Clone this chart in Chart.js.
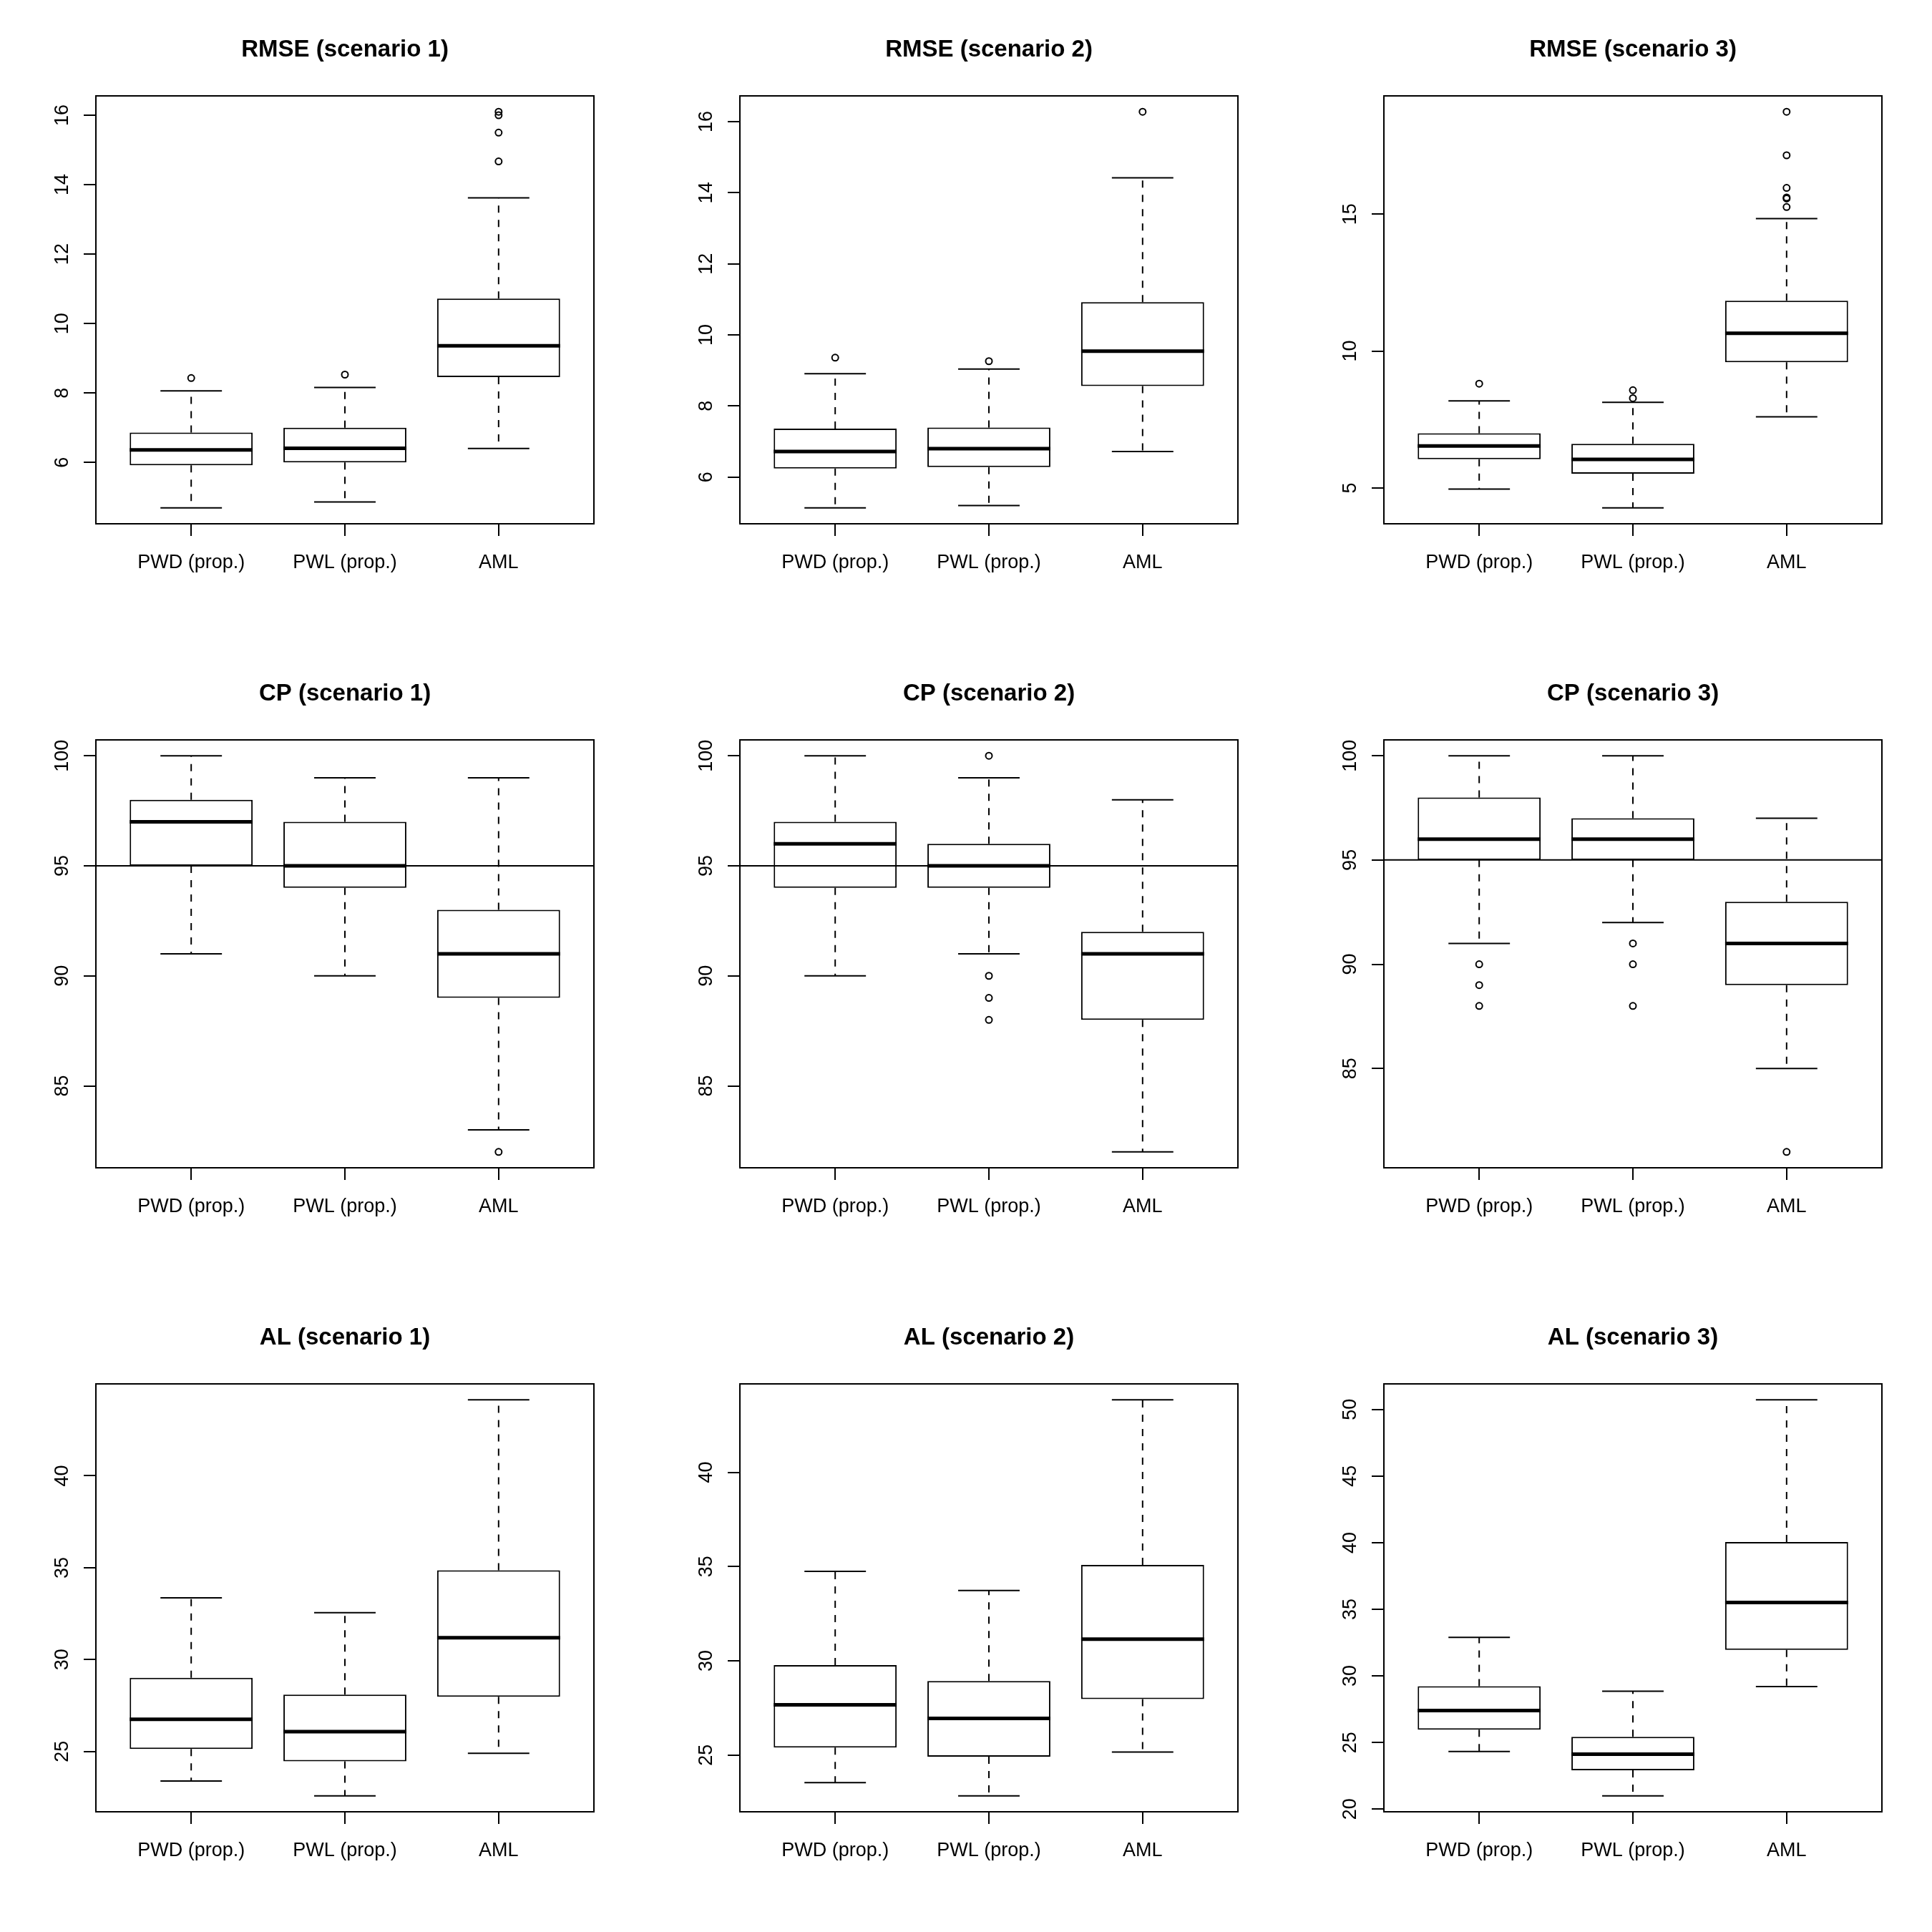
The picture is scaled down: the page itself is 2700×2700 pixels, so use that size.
<!DOCTYPE html>
<html>
<head>
<meta charset="utf-8">
<script src="https://cdn.jsdelivr.net/npm/chart.js@4.4.1/dist/chart.umd.min.js"></script>
<style>
  html, body { margin: 0; padding: 0; background: #fff; }
  #grid {
    display: grid;
    grid-template-columns: repeat(3, 900px);
    grid-template-rows: repeat(3, 900px);
    width: 2700px;
    height: 2700px;
  }
  canvas { display: block; }
</style>
</head>
<body>
<div id="grid"></div>
<script>
const categories = ["PWD (prop.)", "PWL (prop.)", "AML"];
const titles = [
  "RMSE (scenario 1)", "RMSE (scenario 2)", "RMSE (scenario 3)",
  "CP (scenario 1)", "CP (scenario 2)", "CP (scenario 3)",
  "AL (scenario 1)", "AL (scenario 2)", "AL (scenario 3)",
];

// one row per method: [lower whisker, Q1, median, Q3, upper whisker]
const rmse1Stats = [[4.69, 5.92, 6.36, 6.86, 8.06], [4.86, 6.00, 6.41, 7.00, 8.16], [6.40, 8.46, 9.36, 10.72, 13.62]];
const rmse1Outliers = [[8.43], [8.53], [14.67, 15.50, 16.00, 16.10]];
const rmse1Ticks = [6, 8, 10, 12, 14, 16];

const rmse2Stats = [[5.13, 6.24, 6.72, 7.36, 8.91], [5.20, 6.28, 6.80, 7.39, 9.04], [6.72, 8.56, 9.54, 10.92, 14.42]];
const rmse2Outliers = [[9.36], [9.26], [16.28]];
const rmse2Ticks = [6, 8, 10, 12, 14, 16];

const rmse3Stats = [[4.96, 6.05, 6.53, 7.00, 8.18], [4.27, 5.52, 6.04, 6.61, 8.13], [7.60, 9.59, 10.65, 11.84, 14.84]];
const rmse3Outliers = [[8.81], [8.28, 8.57], [15.26, 15.57, 15.61, 15.96, 17.15, 18.74]];
const rmse3Ticks = [5, 10, 15];

const cp1Stats = [[91, 95, 97, 98, 100], [90, 94, 95, 97, 99], [83, 89, 91, 93, 99]];
const cp1Outliers = [[], [], [82]];
const cp2Stats = [[90, 94, 96, 97, 100], [91, 94, 95, 96, 99], [82, 88, 91, 92, 98]];
const cp2Outliers = [[], [88, 89, 90, 100], []];
const cp3Stats = [[91, 95, 96, 98, 100], [92, 95, 96, 97, 100], [85, 89, 91, 93, 97]];
const cp3Outliers = [[88, 89, 90], [88, 90, 91], [81]];
const cpTicks = [85, 90, 95, 100];
const cpNominal = 95;

const al1Stats = [[23.39, 25.13, 26.75, 29.01, 33.36], [22.58, 24.46, 26.08, 28.09, 32.55], [24.90, 27.98, 31.19, 34.86, 44.14]];
const al2Stats = [[23.54, 25.40, 27.66, 29.77, 34.74], [22.83, 24.91, 26.94, 28.93, 33.73], [25.16, 27.97, 31.15, 35.09, 43.85]];
const al3Stats = [[24.33, 25.97, 27.40, 29.22, 32.89], [20.99, 22.92, 24.13, 25.42, 28.85], [29.20, 31.95, 35.51, 40.05, 50.73]];
const alOutliers = [[], [], []];
const al12Ticks = [25, 30, 35, 40];
const al3Ticks = [20, 25, 30, 35, 40, 45, 50];

const panels = [
  { stats: rmse1Stats, outliers: rmse1Outliers, ticks: rmse1Ticks },
  { stats: rmse2Stats, outliers: rmse2Outliers, ticks: rmse2Ticks },
  { stats: rmse3Stats, outliers: rmse3Outliers, ticks: rmse3Ticks },
  { stats: cp1Stats, outliers: cp1Outliers, ticks: cpTicks, ref: cpNominal },
  { stats: cp2Stats, outliers: cp2Outliers, ticks: cpTicks, ref: cpNominal },
  { stats: cp3Stats, outliers: cp3Outliers, ticks: cpTicks, ref: cpNominal },
  { stats: al1Stats, outliers: alOutliers, ticks: al12Ticks },
  { stats: al2Stats, outliers: alOutliers, ticks: al12Ticks },
  { stats: al3Stats, outliers: alOutliers, ticks: al3Ticks },
];

const FONT = '"Liberation Sans", Arial, Helvetica, sans-serif';
const TICK_SIZE = 27;
const BOX_WEX = 0.8;   // box width in category units (R default)
const STAPLE = 0.4;    // whisker cap width

// whiskers, medians, reference line and frame, placed with the chart's scales
const boxplotLines = {
  id: "boxplotLines",
  beforeDatasetsDraw(chart, args, opts) {
    const { ctx, scales: { x, y } } = chart;
    ctx.save();
    ctx.strokeStyle = "#000";
    ctx.lineWidth = 2;
    opts.stats.forEach((s, i) => {
      const cx = x.getPixelForValue(i + 1);
      const x0 = x.getPixelForValue(i + 1 - STAPLE / 2);
      const x1 = x.getPixelForValue(i + 1 + STAPLE / 2);
      ctx.setLineDash([10, 10]);
      ctx.beginPath();
      ctx.moveTo(cx, y.getPixelForValue(s[1]));
      ctx.lineTo(cx, y.getPixelForValue(s[0]));
      ctx.moveTo(cx, y.getPixelForValue(s[3]));
      ctx.lineTo(cx, y.getPixelForValue(s[4]));
      ctx.stroke();
      ctx.setLineDash([]);
      ctx.beginPath();
      ctx.moveTo(x0, y.getPixelForValue(s[0]));
      ctx.lineTo(x1, y.getPixelForValue(s[0]));
      ctx.moveTo(x0, y.getPixelForValue(s[4]));
      ctx.lineTo(x1, y.getPixelForValue(s[4]));
      ctx.stroke();
    });
    ctx.restore();
  },
  afterDatasetsDraw(chart, args, opts) {
    const { ctx, chartArea, scales: { x, y } } = chart;
    ctx.save();
    ctx.strokeStyle = "#000";
    ctx.lineWidth = 5;
    opts.stats.forEach((s, i) => {
      const my = y.getPixelForValue(s[2]);
      ctx.beginPath();
      ctx.moveTo(x.getPixelForValue(i + 1 - BOX_WEX / 2), my);
      ctx.lineTo(x.getPixelForValue(i + 1 + BOX_WEX / 2), my);
      ctx.stroke();
    });
    if (opts.ref != null) {
      const ry = y.getPixelForValue(opts.ref);
      ctx.lineWidth = 2;
      ctx.beginPath();
      ctx.moveTo(chartArea.left, ry);
      ctx.lineTo(chartArea.right, ry);
      ctx.stroke();
    }
    ctx.lineWidth = 2;
    ctx.strokeRect(chartArea.left, chartArea.top, chartArea.width, chartArea.height);
    ctx.restore();
  },
};

const measure = document.createElement("canvas").getContext("2d");
measure.font = `${TICK_SIZE}px ${FONT}`;

const grid = document.getElementById("grid");

panels.forEach((p, k) => {
  const canvas = document.createElement("canvas");
  canvas.width = 900;
  canvas.height = 900;
  grid.appendChild(canvas);

  const all = p.stats.flat().concat(p.outliers.flat());
  const lo = Math.min(...all);
  const hi = Math.max(...all);
  const ext = (hi - lo) * 0.04;

  const widest = Math.max(...p.ticks.map((t) => measure.measureText(String(t)).width));
  const yPad = 46 - 17 - widest / 2;

  const points = [];
  p.outliers.forEach((list, i) => list.forEach((v) => points.push({ x: i + 1, y: v })));

  new Chart(canvas, {
    type: "bar",
    data: {
      datasets: [
        {
          label: "box",
          data: p.stats.map((s, i) => ({ x: i + 1, y: [s[1], s[3]] })),
          backgroundColor: "#fff",
          borderColor: "#000",
          borderWidth: 2,
          borderSkipped: false,
          categoryPercentage: 1,
          barPercentage: BOX_WEX,
        },
        {
          type: "scatter",
          label: "outliers",
          data: points,
          pointStyle: "circle",
          pointRadius: 4.5,
          pointBorderWidth: 2,
          pointBorderColor: "#000",
          pointBackgroundColor: "rgba(0,0,0,0)",
        },
      ],
    },
    options: {
      responsive: false,
      animation: false,
      devicePixelRatio: 1,
      layout: { padding: { left: 0, right: 70, top: 0, bottom: 0 } },
      plugins: {
        legend: { display: false },
        tooltip: { enabled: false },
        title: {
          display: true,
          fullSize: false,
          text: titles[k],
          color: "#000",
          font: { family: FONT, size: 33, weight: "bold" },
          padding: { top: 50, bottom: 44.4 },
        },
        boxplotLines: { stats: p.stats, ref: p.ref },
      },
      scales: {
        x: {
          type: "linear",
          offset: false,
          min: 0.38,
          max: 3.62,
          afterBuildTicks: (s) => { s.ticks = [1, 2, 3].map((v) => ({ value: v })); },
          afterFit: (s) => { s.height = 168; },
          grid: { display: true, offset: false, drawOnChartArea: false, drawTicks: true, tickLength: 17, color: "#000", lineWidth: 2 },
          border: { display: false },
          ticks: {
            color: "#000",
            font: { family: FONT, size: TICK_SIZE },
            padding: 21,
            maxRotation: 0,
            autoSkip: false,
            callback: (v) => categories[v - 1],
          },
        },
        y: {
          type: "linear",
          min: lo - ext,
          max: hi + ext,
          afterBuildTicks: (s) => { s.ticks = p.ticks.map((v) => ({ value: v })); },
          afterFit: (s) => { s.width = 134; },
          grid: { display: true, drawOnChartArea: false, drawTicks: true, tickLength: 17, color: "#000", lineWidth: 2 },
          border: { display: false },
          ticks: {
            color: "#000",
            font: { family: FONT, size: TICK_SIZE },
            padding: yPad,
            minRotation: 90,
            maxRotation: 90,
            crossAlign: "center",
            autoSkip: false,
            callback: (v) => String(v),
          },
        },
      },
    },
    plugins: [boxplotLines],
  });
});
</script>
</body>
</html>
